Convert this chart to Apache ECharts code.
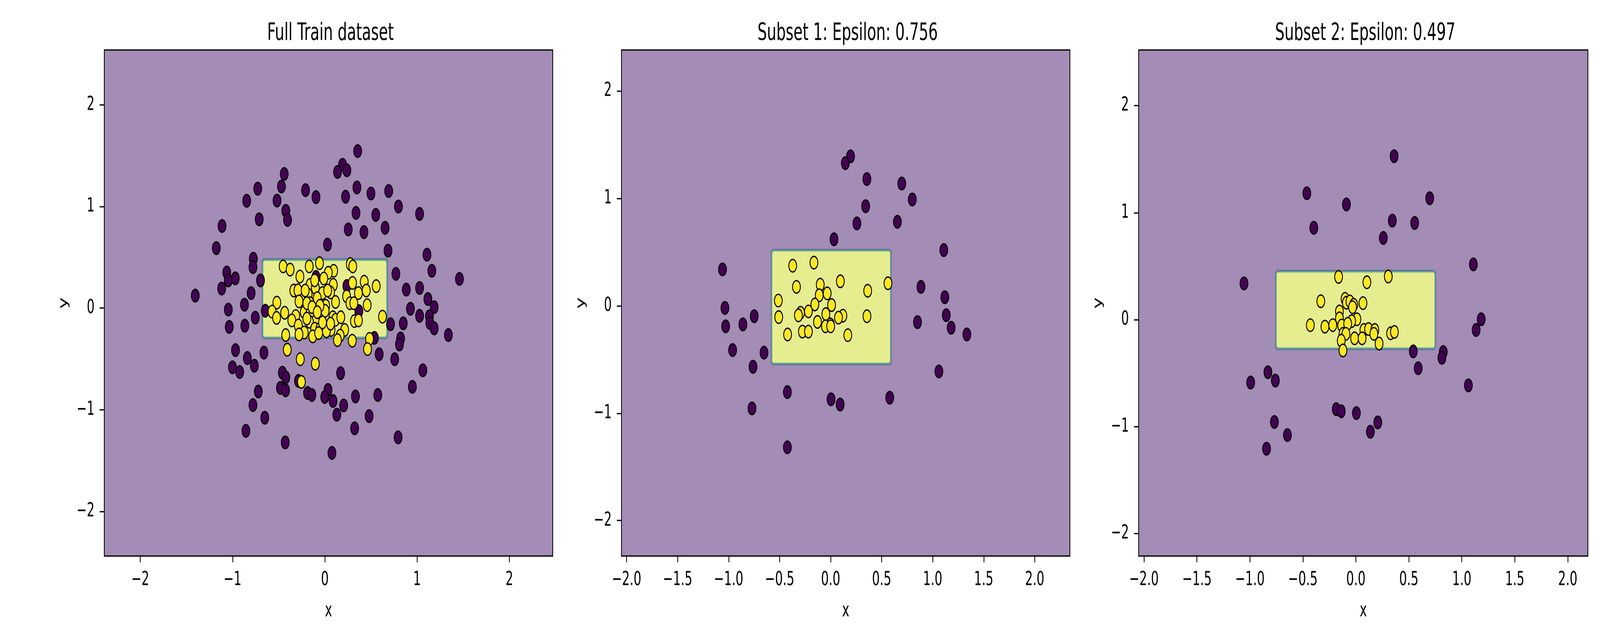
<!DOCTYPE html>
<html>
<head>
<meta charset="utf-8">
<script src="https://cdn.jsdelivr.net/npm/echarts@6/dist/echarts.min.js"></script>
<style>
  html, body { margin: 0; padding: 0; background: #ffffff; overflow: hidden; }
  #chart { position: absolute; left: 0; top: 0; width: 4102px; height: 999px;
           transform: scale(1, 1.6); transform-origin: 0 0; }
</style>
</head>
<body>
<div id="chart"></div>
<script>
// ---------------- DATA ----------------
const TITLES = ['Full Train dataset', 'Subset 1: Epsilon: 0.756', 'Subset 2: Epsilon: 0.497'];

const X_TICKS_FULL = [-2, -1, 0, 1, 2];
const X_TICKS_SUB = [-2.0, -1.5, -1.0, -0.5, 0.0, 0.5, 1.0, 1.5, 2.0];
const Y_TICKS = [-2, -1, 0, 1, 2];

// axis extents [xmin, xmax, ymin, ymax]
const EXTENT_FULL = [-2.39, 2.47, -2.44, 2.54];
const EXTENT_S1 = [-2.05, 2.345, -2.33, 2.38];
const EXTENT_S2 = [-2.05, 2.19, -2.21, 2.52];

// decision region (class 1) [x0, x1, y0, y1]
const REGION_FULL = [-0.67, 0.67, -0.285, 0.47];
const REGION_S1 = [-0.575, 0.585, -0.535, 0.51];
const REGION_S2 = [-0.75, 0.745, -0.265, 0.445];

const FULL_PURPLE = [[0.356,1.545],[0.192,1.410],[0.138,1.340],[0.239,1.356],[-0.440,1.320],[-0.727,1.175],[-0.470,1.197],[-0.209,1.161],[-0.096,1.092],[0.348,1.187],[0.500,1.128],[0.692,1.152],[0.225,1.096],[-0.847,1.056],[-0.518,1.058],[0.798,0.999],[1.027,0.927],[0.338,0.937],[0.552,0.917],[-0.423,0.957],[-0.404,0.868],[-0.711,0.874],[-1.114,0.808],[0.254,0.774],[0.424,0.748],[0.653,0.790],[0.029,0.625],[-1.176,0.590],[0.685,0.565],[1.107,0.526],[-0.775,0.486],[-0.779,0.403],[1.160,0.367],[-1.063,0.351],[0.770,0.337],[1.459,0.287],[-1.046,0.272],[-0.970,0.293],[-0.697,0.272],[-1.118,0.192],[-0.096,0.307],[0.239,0.218],[-1.404,0.123],[-0.799,0.148],[0.883,0.182],[1.027,0.198],[1.117,0.089],[1.185,0.009],[-1.046,-0.015],[-0.871,0.033],[-0.645,-0.026],[0.369,-0.030],[0.928,-0.007],[1.027,-0.076],[1.134,-0.080],[-0.754,-0.094],[1.138,-0.146],[1.185,-0.199],[-1.036,-0.185],[-0.867,-0.173],[0.712,-0.159],[0.850,-0.150],[1.339,-0.265],[0.537,-0.293],[0.821,-0.299],[0.809,-0.358],[-0.968,-0.414],[-0.660,-0.438],[-0.840,-0.491],[0.589,-0.454],[0.757,-0.503],[-1.001,-0.583],[-0.923,-0.629],[-0.764,-0.567],[1.062,-0.612],[-0.460,-0.636],[-0.423,-0.682],[0.171,-0.640],[-0.285,-0.716],[0.949,-0.775],[-0.481,-0.785],[-0.425,-0.809],[-0.721,-0.821],[-0.187,-0.835],[-0.141,-0.855],[0.034,-0.805],[-0.001,-0.875],[0.089,-0.914],[0.332,-0.869],[0.574,-0.855],[0.204,-0.958],[-0.779,-0.954],[0.130,-1.049],[0.480,-1.063],[-0.651,-1.079],[0.323,-1.183],[-0.855,-1.208],[0.794,-1.272],[-0.429,-1.322],[0.077,-1.425]];

const FULL_YELLOW = [[-0.452,0.410],[-0.376,0.379],[-0.169,0.410],[-0.058,0.442],[0.276,0.433],[0.303,0.410],[0.096,0.367],[0.038,0.348],[-0.270,0.310],[-0.011,0.291],[0.092,0.229],[0.300,0.248],[0.427,0.260],[0.557,0.216],[-0.160,0.229],[-0.103,0.200],[-0.336,0.173],[-0.291,0.175],[-0.025,0.148],[0.062,0.154],[-0.181,0.135],[0.364,0.148],[0.449,0.173],[0.236,0.116],[-0.280,0.066],[0.116,0.060],[-0.160,0.048],[0.272,0.048],[0.314,0.048],[0.459,0.029],[-0.520,0.054],[0.010,0.023],[-0.082,0.098],[-0.572,-0.034],[-0.435,-0.046],[-0.523,-0.096],[-0.315,-0.078],[-0.358,-0.121],[-0.223,-0.040],[-0.160,-0.053],[-0.046,-0.071],[0.003,-0.027],[-0.103,-0.128],[-0.167,-0.134],[0.088,-0.090],[0.116,-0.115],[0.173,-0.090],[0.625,-0.084],[0.321,-0.128],[0.364,-0.121],[-0.287,-0.171],[-0.011,-0.171],[-0.110,-0.203],[-0.053,-0.203],[0.067,-0.215],[0.215,-0.215],[-0.223,-0.240],[-0.280,-0.259],[-0.424,-0.265],[-0.131,-0.278],[-0.067,-0.246],[0.017,-0.228],[0.166,-0.271],[0.137,-0.315],[0.297,-0.321],[0.484,-0.303],[-0.407,-0.409],[0.463,-0.403],[-0.266,-0.503],[-0.103,-0.547],[-0.254,-0.726],[-0.195,0.048],[-0.053,0.023],[-0.138,0.010],[-0.082,-0.040],[-0.195,-0.103],[-0.025,-0.140],[0.062,-0.153],[0.031,0.173],[-0.110,0.273],[-0.213,0.173]];

const S1_PURPLE = [[0.195,1.390],[0.144,1.327],[0.355,1.179],[0.697,1.137],[0.800,0.989],[0.343,0.926],[0.257,0.766],[0.654,0.781],[0.033,0.618],[1.109,0.518],[-1.060,0.338],[0.885,0.175],[1.119,0.079],[-1.036,-0.021],[-0.749,-0.098],[1.133,-0.088],[-1.029,-0.192],[-0.860,-0.174],[0.851,-0.153],[1.181,-0.205],[1.335,-0.268],[-0.961,-0.413],[-0.653,-0.437],[-0.761,-0.569],[1.061,-0.612],[-0.424,-0.804],[0.004,-0.871],[0.093,-0.920],[0.579,-0.856],[-0.771,-0.956],[-0.424,-1.318]];

const S1_YELLOW = [[-0.372,0.372],[-0.164,0.401],[-0.335,0.175],[-0.102,0.196],[0.095,0.227],[0.562,0.209],[0.363,0.139],[-0.513,0.048],[-0.112,0.097],[-0.034,0.115],[-0.155,0.012],[0.009,0.006],[-0.509,-0.106],[-0.295,-0.066],[-0.316,-0.090],[-0.218,-0.053],[-0.047,-0.078],[0.120,-0.093],[0.077,-0.111],[0.356,-0.098],[-0.129,-0.151],[-0.003,-0.174],[-0.051,-0.192],[0.000,-0.192],[-0.422,-0.268],[-0.277,-0.241],[-0.218,-0.241],[0.168,-0.274]];

const S2_PURPLE = [[0.361,1.527],[-0.463,1.181],[-0.089,1.076],[0.697,1.134],[-0.397,0.858],[0.344,0.925],[0.555,0.903],[0.259,0.763],[1.109,0.516],[-1.056,0.338],[1.183,0.003],[1.135,-0.097],[0.542,-0.297],[0.825,-0.303],[0.812,-0.357],[0.588,-0.455],[-0.830,-0.492],[-0.993,-0.588],[-0.760,-0.570],[1.062,-0.615],[-0.185,-0.837],[-0.138,-0.857],[0.005,-0.874],[0.207,-0.961],[0.137,-1.048],[-0.769,-0.957],[-0.646,-1.079],[-0.843,-1.207]];

const S2_YELLOW = [[-0.163,0.399],[0.306,0.403],[0.104,0.349],[-0.331,0.172],[-0.102,0.194],[-0.089,0.158],[-0.056,0.170],[-0.020,0.139],[-0.031,0.116],[0.067,0.154],[-0.155,0.076],[-0.155,0.012],[0.010,0.003],[-0.040,-0.015],[-0.430,-0.052],[-0.292,-0.066],[-0.218,-0.052],[-0.134,-0.055],[-0.077,-0.039],[0.076,-0.097],[0.120,-0.088],[0.179,-0.097],[0.170,-0.133],[0.328,-0.128],[0.364,-0.115],[-0.122,-0.133],[-0.094,-0.133],[-0.138,-0.197],[-0.012,-0.175],[0.059,-0.175],[0.219,-0.224],[-0.122,-0.288]];

// ---------------- STYLE / LAYOUT ----------------
const FONT = 'DejaVu Sans';
const BG_PURPLE = '#a38cb5';
const C0 = '#440154', C1 = '#fde725';
const GRIDS = [
  { left: 267, top: 80, width: 1148, height: 830 },
  { left: 1591, top: 80, width: 1148, height: 830 },
  { left: 2915, top: 80, width: 1150, height: 830 }
];
const PANELS = [
  { extent: EXTENT_FULL, region: REGION_FULL, purple: FULL_PURPLE, yellow: FULL_YELLOW, xticks: X_TICKS_FULL, xdec: 0 },
  { extent: EXTENT_S1, region: REGION_S1, purple: S1_PURPLE, yellow: S1_YELLOW, xticks: X_TICKS_SUB, xdec: 1 },
  { extent: EXTENT_S2, region: REGION_S2, purple: S2_PURPLE, yellow: S2_YELLOW, xticks: X_TICKS_SUB, xdec: 1 }
];

function fmt(v, dec) {
  if (Math.abs(v) < 1e-9) v = 0;
  return v.toFixed(dec).replace('-', '\u2212');
}
function chamfer(l, t, r, b, c) {
  return [[l + c, t], [r - c, t], [r, t + c], [r, b - c], [r - c, b], [l + c, b], [l, b - c], [l, t + c]];
}
const BANDS = [
  { d: 3.4, fill: '#66739f', c: 4.5 },
  { d: 1.4, fill: '#5a9d9b', c: 3.5 },
  { d: 0.1, fill: '#93cf86', c: 2.8 },
  { d: -1.3, fill: '#e6ed8f', c: 2.2 }
];
function renderRegion(params, api) {
  const p0 = api.coord([api.value(0), api.value(3)]);
  const p1 = api.coord([api.value(1), api.value(2)]);
  const L = p0[0], T = p0[1], R = p1[0], B = p1[1];
  return {
    type: 'group',
    children: BANDS.map(bd => ({
      type: 'polygon',
      shape: { points: chamfer(L - bd.d, T - bd.d, R + bd.d, B + bd.d, bd.c) },
      style: { fill: bd.fill }
    }))
  };
}

const chart = echarts.init(document.getElementById('chart'), null, { renderer: 'canvas', devicePixelRatio: 2 });

const title = [], grid = [], xAxis = [], yAxis = [], series = [];
PANELS.forEach((p, i) => {
  const g = GRIDS[i];
  title.push({
    text: TITLES[i], left: g.left + g.width / 2, top: 30, textAlign: 'center',
    textStyle: { fontFamily: FONT, fontSize: 38, fontWeight: 'normal', color: '#000' }
  });
  grid.push(Object.assign({ show: true, backgroundColor: BG_PURPLE, borderColor: '#000', borderWidth: 2, containLabel: false }, g));
  xAxis.push({
    type: 'value', gridIndex: i, min: p.extent[0], max: p.extent[1],
    name: 'x', nameLocation: 'middle', nameGap: 73,
    nameTextStyle: { fontFamily: FONT, fontSize: 31, color: '#000' },
    axisLine: { show: true, onZero: false, lineStyle: { color: '#000', width: 2 } },
    axisTick: { show: true, length: 10, lineStyle: { color: '#000', width: 2 }, customValues: p.xticks },
    axisLabel: { show: true, customValues: p.xticks, margin: 23, fontFamily: FONT, fontSize: 31, color: '#000',
                 formatter: (v) => fmt(v, p.xdec) },
    splitLine: { show: false }
  });
  yAxis.push({
    type: 'value', gridIndex: i, min: p.extent[2], max: p.extent[3],
    name: 'y', nameLocation: 'middle', nameGap: 88, nameRotate: 90,
    nameTextStyle: { fontFamily: FONT, fontSize: 31, color: '#000' },
    axisLine: { show: true, onZero: false, lineStyle: { color: '#000', width: 2 } },
    axisTick: { show: true, length: 12, lineStyle: { color: '#000', width: 2 }, customValues: Y_TICKS },
    axisLabel: { show: true, customValues: Y_TICKS, margin: 25, fontFamily: FONT, fontSize: 31, color: '#000',
                 formatter: (v) => fmt(v, 0) },
    splitLine: { show: false }
  });
  series.push({
    type: 'custom', xAxisIndex: i, yAxisIndex: i, coordinateSystem: 'cartesian2d',
    data: [p.region], renderItem: renderRegion, silent: true, z: 1
  });
  series.push({
    type: 'scatter', xAxisIndex: i, yAxisIndex: i, data: p.purple, symbol: 'circle', symbolSize: 20,
    itemStyle: { color: C0, borderColor: '#000', borderWidth: 2.2, opacity: 1 }, silent: true, z: 3
  });
  series.push({
    type: 'scatter', xAxisIndex: i, yAxisIndex: i, data: p.yellow, symbol: 'circle', symbolSize: 20,
    itemStyle: { color: C1, borderColor: '#000', borderWidth: 2.2, opacity: 1 }, silent: true, z: 4
  });
});

chart.setOption({ animation: false, backgroundColor: '#ffffff', title, grid, xAxis, yAxis, series });
</script>
</body>
</html>
